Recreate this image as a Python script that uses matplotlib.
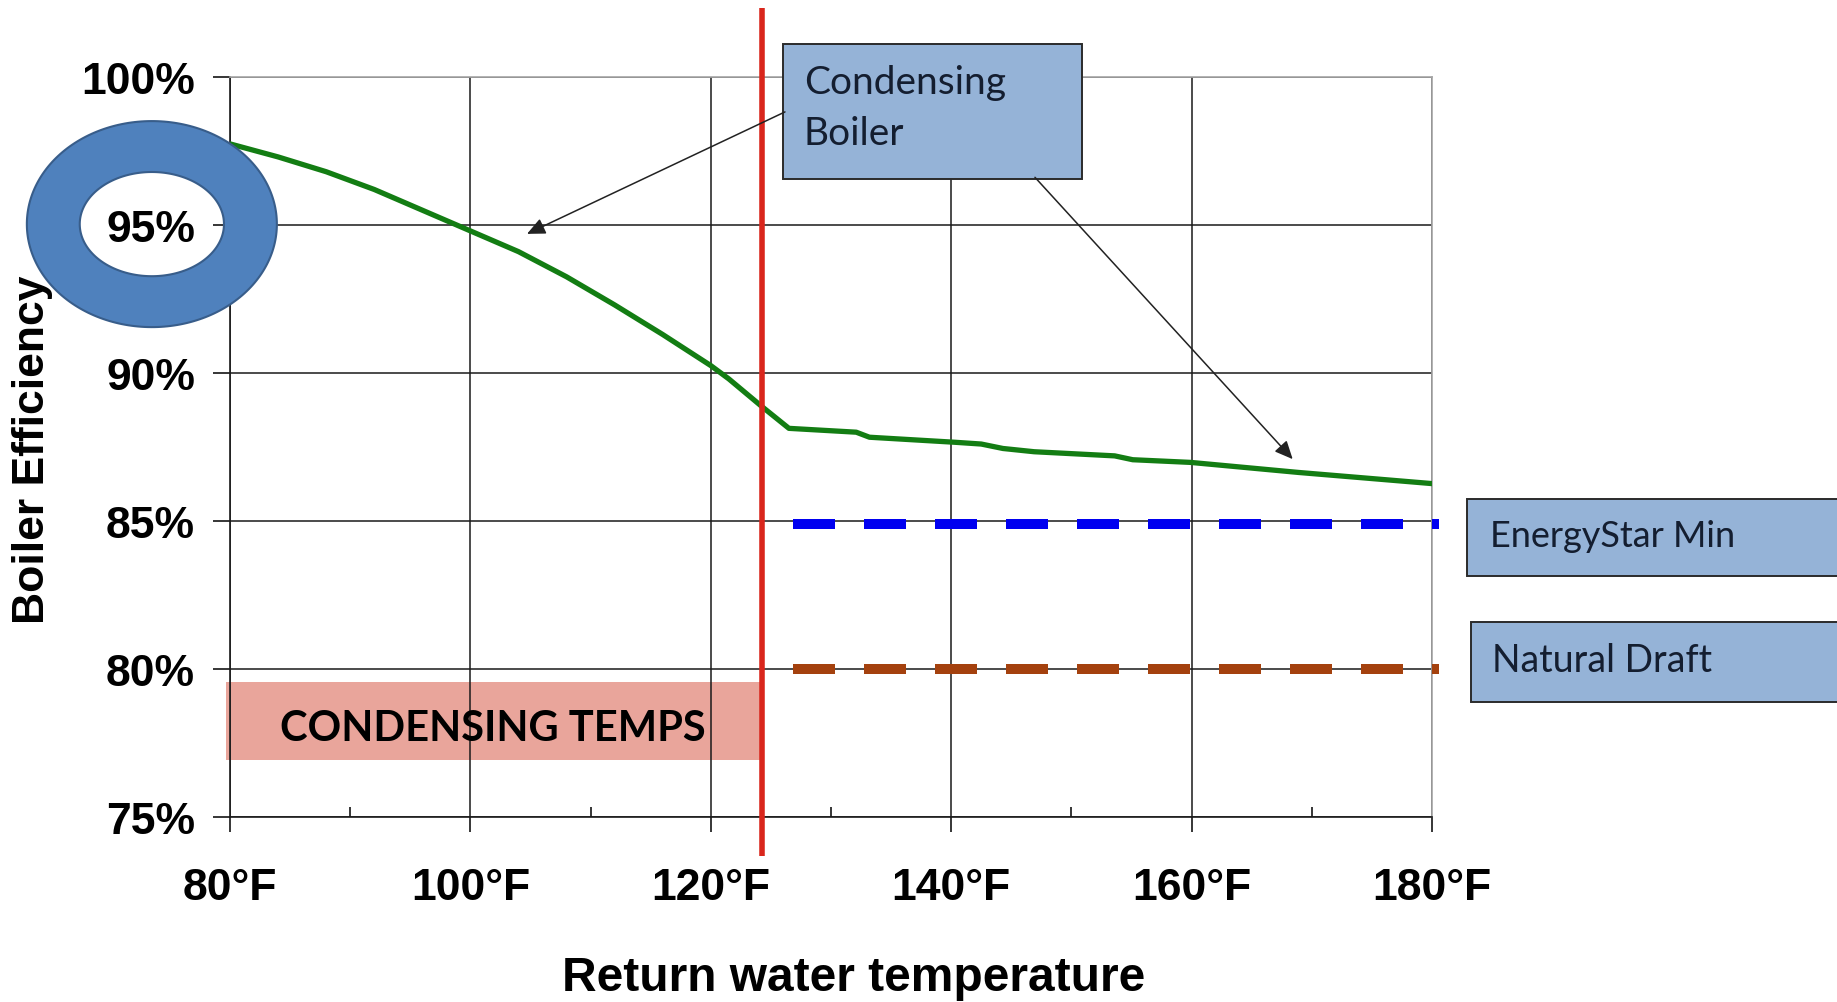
import numpy as np
import matplotlib.pyplot as plt
from matplotlib.patches import Rectangle, PathPatch
from matplotlib.path import Path

# efficiency curve
temps = [80.0, 84.0, 88.0, 92.0, 96.0, 100.0, 104.0, 108.0, 112.0, 116.0, 120.0,
         121.5, 124.3, 126.5, 132.1, 133.2, 140.3, 142.5, 144.3, 146.9, 153.6,
         155.1, 159.9, 168.9, 180.4]
efficiency = [97.74, 97.3, 96.8, 96.2, 95.5, 94.8, 94.1, 93.25, 92.3, 91.3, 90.25,
              89.8, 88.85, 88.13, 88.0, 87.83, 87.66, 87.6, 87.45, 87.34, 87.2,
              87.07, 86.98, 86.64, 86.25]

energystar_x = [126.8, 180.6]
energystar_y = [84.9, 84.9]
natural_x = [126.8, 180.6]
natural_y = [80.0, 80.0]

condensing_limit = 124.3
condensing_band = (79.7, 124.1, 76.94, 79.57)

x_ticks = [80, 100, 120, 140, 160, 180]
x_minor = [90, 110, 130, 150, 170]
y_ticks = [75, 80, 85, 90, 95, 100]

BOLD = 'Liberation Sans'
BOX = 'Lato'


def ring_path(cx, cy, a1, b1, a2, b2, n=240):
    t = np.linspace(0, 2 * np.pi, n)
    outer = np.column_stack([cx + a1 * np.cos(t), cy + b1 * np.sin(t)])
    inner = np.column_stack([cx + a2 * np.cos(-t), cy + b2 * np.sin(-t)])
    verts = np.vstack([outer, inner])
    codes = np.full(len(verts), Path.LINETO)
    codes[0] = Path.MOVETO
    codes[n] = Path.MOVETO
    return Path(verts, codes)


fig = plt.figure(figsize=(18.37, 10.03), dpi=100)
ax = fig.add_axes([0.1252, 0.18445, 0.65433, 0.73779])
ax.set_xlim(80, 180)
ax.set_ylim(75, 100)

ax.set_xticks(x_ticks)
ax.set_xticklabels([f'{t}°F' for t in x_ticks])
ax.set_xticks(x_minor, minor=True)
ax.set_yticks(y_ticks)
ax.set_yticklabels([f'{v}%' for v in y_ticks])

ax.grid(True, which='major', color='#1a1a1a', lw=1.1)
ax.tick_params(axis='x', which='major', direction='out', length=10.8, width=1.1,
               pad=25, labelsize=32)
ax.tick_params(axis='x', which='minor', direction='in', length=7, width=1.1)
ax.tick_params(axis='y', direction='out', length=12.2, width=1.1, pad=13, labelsize=32)
for lab in ax.get_xticklabels() + ax.get_yticklabels():
    lab.set_fontfamily(BOLD)
    lab.set_fontweight('bold')

for s in ['left', 'bottom']:
    ax.spines[s].set_color('#1a1a1a')
    ax.spines[s].set_linewidth(1.2)
for s in ['top', 'right']:
    ax.spines[s].set_color('#a6a6a6')
    ax.spines[s].set_linewidth(1.2)

ax.set_xlabel('Return water temperature', fontsize=34.5, fontweight='bold', family=BOLD)
ax.xaxis.set_label_coords(0.519, -0.186)
ax.set_ylabel('Boiler Efficiency', fontsize=32, fontweight='bold', family=BOLD)
ax.yaxis.set_label_coords(-0.147, 0.497)

# condensing temps band
x0, x1, y0, y1 = condensing_band
ax.add_patch(Rectangle((x0, y0), x1 - x0, y1 - y0, facecolor='#e9a59b',
                       edgecolor='none', zorder=1, clip_on=False))
ax.text((x0 + x1) / 2, 77.61, 'CONDENSING TEMPS', ha='center', va='baseline',
        fontsize=30, fontweight='bold', family=BOX, color='black', zorder=3)

# data lines
ax.plot(temps, efficiency, color='#137d13', lw=3.8, zorder=3, solid_joinstyle='round')
ax.plot(energystar_x, energystar_y, color='#0000f0', lw=7.2, dashes=(4.2, 2.9),
        dash_capstyle='butt', zorder=3, clip_on=False)
ax.plot(natural_x, natural_y, color='#a4410e', lw=7.2, dashes=(4.2, 2.9),
        dash_capstyle='butt', zorder=3, clip_on=False)

ax.axvline(condensing_limit, ymin=-0.053, ymax=1.093, color='#d9261c', lw=4,
           solid_capstyle='butt', zorder=4, clip_on=False)

# callout boxes
box_kw = dict(facecolor='#95b3d7', edgecolor='#2b2b2b', lw=1.4, zorder=4, clip_on=False)
ax.add_patch(Rectangle((126.03, 96.55), 24.83, 4.56, **box_kw))
ax.text(127.75, 99.45, 'Condensing', ha='left', va='baseline', fontsize=28,
        family=BOX, color='#141e30', zorder=5, clip_on=False)
ax.text(127.75, 97.74, 'Boiler', ha='left', va='baseline', fontsize=28,
        family=BOX, color='#141e30', zorder=5, clip_on=False)

ax.add_patch(Rectangle((182.9, 83.14), 40, 2.6, **box_kw))
ax.text(184.83, 84.17, 'EnergyStar Min', ha='left', va='baseline', fontsize=26,
        family=BOX, color='#141e30', zorder=5, clip_on=False)
ax.add_patch(Rectangle((183.24, 78.89), 40, 2.7, **box_kw))
ax.text(184.97, 79.94, 'Natural Draft', ha='left', va='baseline', fontsize=27,
        family=BOX, color='#141e30', zorder=5, clip_on=False)

arrow_kw = dict(arrowstyle='-|>,head_length=0.55,head_width=0.25', color='#222222',
                lw=1.1, mutation_scale=20, shrinkA=0, shrinkB=0)
ax.annotate('', xy=(104.71, 94.70), xytext=(126.17, 98.82),
            arrowprops=arrow_kw, zorder=5, annotation_clip=False)
ax.annotate('', xy=(168.41, 87.09), xytext=(146.97, 96.61),
            arrowprops=arrow_kw, zorder=5, annotation_clip=False)

# highlight ring around 95%
ring = PathPatch(ring_path(73.5, 95.03, 10.4, 3.48, 6.0, 1.76), facecolor='#4f81bd',
                 edgecolor='#385d8a', lw=1.5, zorder=6, clip_on=False)
ax.add_patch(ring)

fig.savefig('out.png', dpi=100)
